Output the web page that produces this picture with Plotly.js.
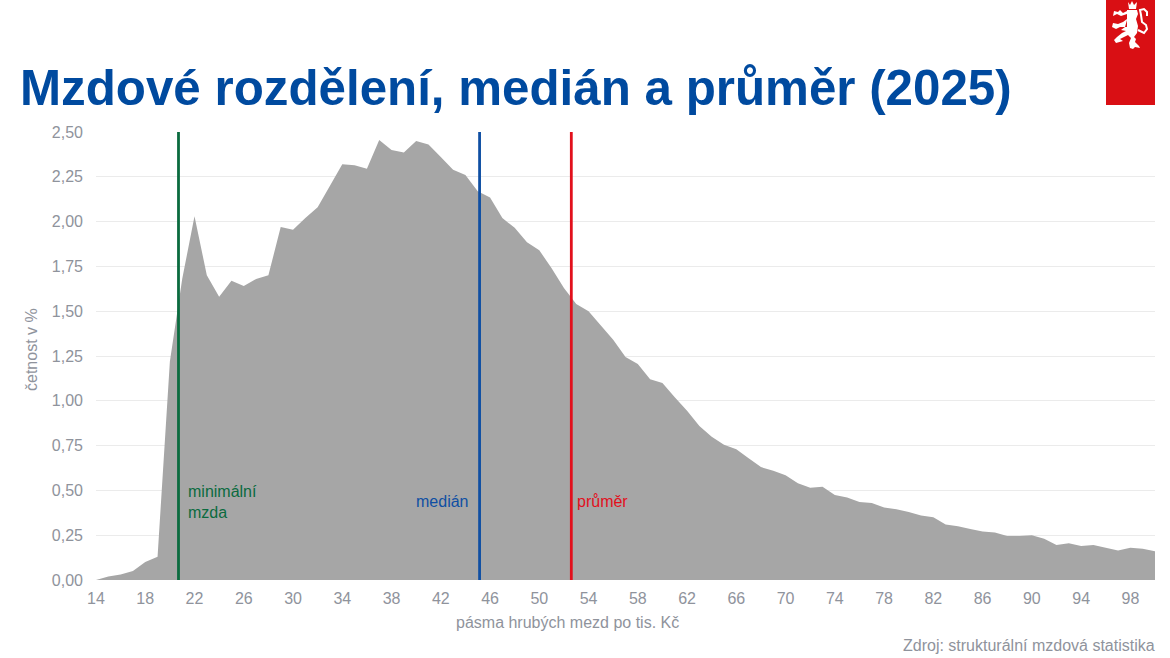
<!DOCTYPE html>
<html><head><meta charset="utf-8">
<script src="https://cdn.plot.ly/plotly-3.0.1.min.js"></script>
<style>html,body{margin:0;padding:0;background:#fff;width:1170px;height:658px;overflow:hidden}#c{width:1170px;height:658px}</style>
</head><body><div id="c"></div>
<script>
const wageBands=[14,15,16,17,18,19,20,21,22,23,24,25,26,27,28,29,30,31,32,33,34,35,36,37,38,39,40,41,42,43,44,45,46,47,48,49,50,51,52,53,54,55,56,57,58,59,60,61,62,63,64,65,66,67,68,69,70,71,72,73,74,75,76,77,78,79,80,81,82,83,84,85,86,87,88,89,90,91,92,93,94,95,96,97,98,99,100];
const frequency=[0,0.02,0.03,0.05,0.10,0.13,1.22,1.68,2.03,1.70,1.58,1.67,1.64,1.68,1.70,1.97,1.955,2.02,2.08,2.20,2.32,2.315,2.295,2.455,2.40,2.385,2.45,2.43,2.36,2.29,2.26,2.17,2.135,2.02,1.965,1.885,1.84,1.74,1.63,1.54,1.50,1.42,1.34,1.245,1.205,1.12,1.10,1.02,0.945,0.86,0.80,0.755,0.73,0.68,0.63,0.61,0.585,0.54,0.515,0.52,0.475,0.46,0.435,0.43,0.405,0.395,0.38,0.36,0.35,0.31,0.30,0.285,0.27,0.265,0.245,0.245,0.25,0.23,0.195,0.205,0.19,0.195,0.18,0.165,0.18,0.175,0.16];
const xTicks=[14,18,22,26,30,34,38,42,46,50,54,58,62,66,70,74,78,82,86,90,94,98];
const yTicks=[0,0.25,0.5,0.75,1,1.25,1.5,1.75,2,2.25,2.5];
const yTickLabels=['0,00','0,25','0,50','0,75','1,00','1,25','1,50','1,75','2,00','2,25','2,50'];
const minWage=20.7, median=45.15, mean=52.6;
const grey='#8f939c';
const lionFill='M1128 2 L1130 5 L1132 1 L1134 5 L1137 2 L1136 9 L1129 9 Z '+
 'M1127 10 L1137 10 L1138 14 L1136 19 L1138 26 L1137 33 L1134 37 L1136 39 L1135 42 L1139 46 L1140 48 L1135 47 L1133 49 L1130 48 L1129 43 L1131 38 L1128 35 L1124 37 L1120 39 L1123 41 L1116 43 L1114 40 L1117 37 L1122 33 L1126 31 L1121 30 L1125 27 L1127 20 Z '+
 'M1127 14 L1121 16 L1117 14 L1113 16 L1114 11 L1118 12 L1120 10 L1123 13 L1127 11 Z '+
 'M1127 19 L1127 27 L1120 27 L1116 29 L1112 27 L1113 23 L1118 24 L1123 22 Z';
const lionTail='M1138 30 L1144 33 L1147 29 L1146 25 L1142 22 L1141 15 L1140 10 L1144 9 L1147 12 L1147 16';
const toPixels=p=>p.replace(/([ML]?)\s?(\d+) (\d+)/g,(m,c,x,y)=>`${c}${x-96} ${132-y} `);
const pixelShape={type:'path',xref:'paper',yref:'paper',xsizemode:'pixel',ysizemode:'pixel',xanchor:0,yanchor:1,layer:'above'};
const vline=(x,c)=>({type:'line',xref:'x',yref:'y',x0:x,x1:x,y0:0,y1:2.5,line:{color:c,width:2.8},layer:'above'});
Plotly.newPlot('c',[{x:wageBands,y:frequency,type:'scatter',mode:'none',fill:'tozeroy',fillcolor:'#a6a6a6',hoverinfo:'skip'}],{
 width:1170,height:658,paper_bgcolor:'#fff',plot_bgcolor:'#fff',showlegend:false,
 margin:{l:96,r:15,t:132,b:78,pad:0},
 font:{family:'Liberation Sans, Arial, sans-serif',color:grey},
 xaxis:{range:[14,100],tickmode:'array',tickvals:xTicks,ticktext:xTicks.map(String),showgrid:false,zeroline:false,showline:false,ticks:'',tickfont:{size:16,color:grey},ticklabelstandoff:7,automargin:false},
 yaxis:{range:[0,2.5],tickmode:'array',tickvals:yTicks,ticktext:yTickLabels,showgrid:true,gridcolor:'#ebebeb',gridwidth:1,zeroline:false,showline:false,ticks:'',tickfont:{size:16,color:grey},ticklabelstandoff:12,automargin:false},
 shapes:[
  vline(minWage,'#0b6b3f'),vline(median,'#0f4fa3'),vline(mean,'#e2101c'),
  {type:'rect',xref:'paper',yref:'paper',x0:(1106-96)/1059,x1:1,y0:(580-105)/448,y1:580/448,fillcolor:'#d90f14',line:{width:0},layer:'above'},
  Object.assign({},pixelShape,{path:toPixels(lionFill),fillcolor:'#fff',line:{width:0}}),
  Object.assign({},pixelShape,{path:toPixels(lionTail),line:{color:'#fff',width:2}})
 ],
 annotations:[
  {xref:'paper',yref:'paper',x:(17.5-96)/1059,y:(580-88)/448,xanchor:'left',yanchor:'middle',showarrow:false,text:'<b>Mzdové rozdělení, medián a průměr (2025)</b>',font:{size:49.3,color:'#004a9f'}},
  {xref:'x',yref:'paper',x:minWage,xshift:7,y:(580-502)/448,xanchor:'left',yanchor:'middle',align:'left',showarrow:false,text:'minimální<br>mzda',font:{size:16,color:'#0b6b3f'}},
  {xref:'x',yref:'paper',x:median,xshift:-10,y:(580-501.5)/448,xanchor:'right',yanchor:'middle',showarrow:false,text:'medián',font:{size:16,color:'#0f4fa3'}},
  {xref:'x',yref:'paper',x:mean,xshift:4,y:(580-501.5)/448,xanchor:'left',yanchor:'middle',showarrow:false,text:'průměr',font:{size:16,color:'#e2101c'}},
  {xref:'paper',yref:'paper',x:(567.5-96)/1059,y:(580-622)/448,xanchor:'center',yanchor:'middle',showarrow:false,text:'pásma hrubých mezd po tis. Kč',font:{size:16,color:grey}},
  {xref:'paper',yref:'paper',x:(31-96)/1059,y:(580-350)/448,xanchor:'center',yanchor:'middle',textangle:-90,showarrow:false,text:'četnost v %',font:{size:16,color:grey}},
  {xref:'paper',yref:'paper',x:1,xshift:2,y:(580-645)/448,xanchor:'right',yanchor:'middle',showarrow:false,text:'Zdroj: strukturální mzdová statistika',font:{size:16,color:grey}}
 ]
},{displayModeBar:false,staticPlot:true});
</script></body></html>
